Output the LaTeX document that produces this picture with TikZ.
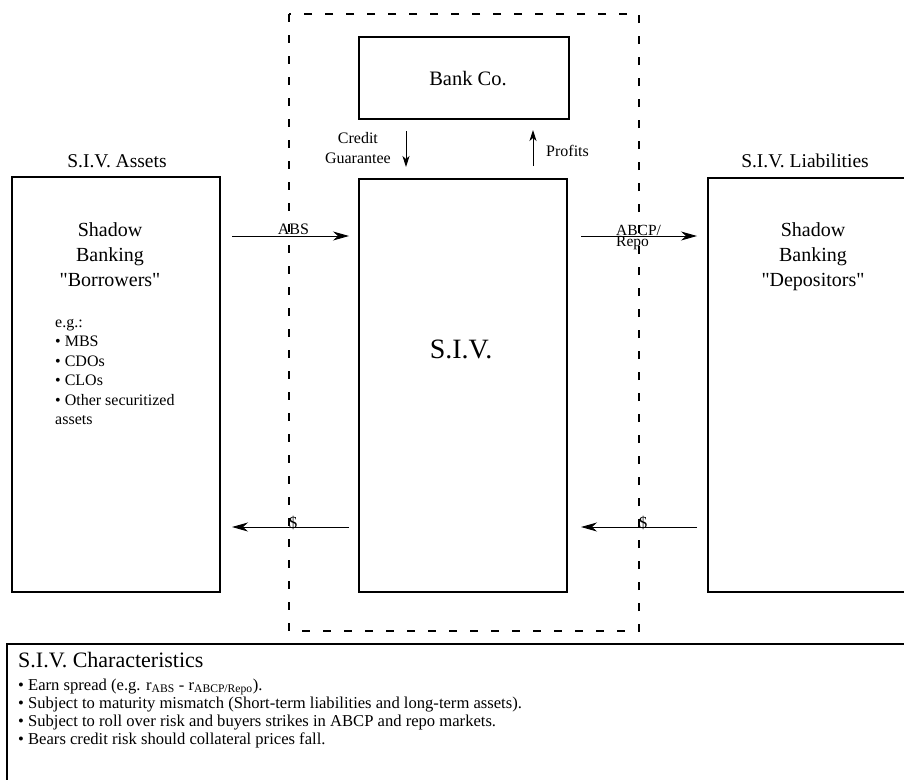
\documentclass[tikz,border=0pt]{standalone}
\usepackage{fontspec}
\setmainfont{Liberation Serif}
\usetikzlibrary{arrows.meta}
\newcommand{\fsz}[2]{\fontsize{#1}{#2}\selectfont}
\begin{document}
\begin{tikzpicture}[x=1pt,y=-1pt,
  box/.style={draw,line width=1.8pt,inner sep=0pt},
  flow/.style={line width=0.9pt,-{Stealth[length=16pt,width=9pt,inset=5pt]}},
  small/.style={-{Stealth[length=11pt,width=7pt,inset=3pt]},line width=1pt},
  txt/.style={inner sep=0pt}]
\useasboundingbox (0,0) rectangle (904,779);
% dashed SIV perimeter
\draw[line width=1.6pt,dash pattern=on 8pt off 13pt] (289,14) rectangle (639,631);
% boxes
\node[box,minimum width=208pt,minimum height=415pt] (assets) at (116,384.5) {};
\node[box,minimum width=208pt,minimum height=413pt] (siv) at (463,385.5) {};
\node[box,minimum width=210pt,minimum height=82pt] (bank) at (464,78) {};
\node[box,minimum width=210pt,minimum height=414pt] (liab) at (813,385) {};
\node[box,minimum width=920pt,minimum height=160pt,anchor=north west] (chars) at (6,643) {};
% titles
\node[txt,anchor=base,font=\fsz{19.5}{23}] (ta) at (117,167) {S.I.V. Assets};
\node[txt,anchor=base,font=\fsz{19.5}{23}] (tl) at (805,167) {S.I.V. Liabilities};
\node[txt,anchor=base,font=\fsz{20.5}{24}] (tb) at (468,85) {Bank Co.};
\node[txt,anchor=base,font=\fsz{28}{32}] (ts) at (461,358) {S.I.V.};
% box texts
\node[txt,anchor=base,font=\fsz{20}{25}] (tbor) at (110,236)
  {\begin{tabular}[t]{@{}c@{}}Shadow\\Banking\\\textquotedbl Borrowers\textquotedbl\end{tabular}};
\node[txt,anchor=base,font=\fsz{20}{25}] (tdep) at (813,236)
  {\begin{tabular}[t]{@{}c@{}}Shadow\\Banking\\\textquotedbl Depositors\textquotedbl\end{tabular}};
\node[txt,anchor=base west,font=\fsz{16}{19.5}] (teg) at (55,327)
  {\begin{tabular}[t]{@{}l@{}}e.g.:\\• MBS\\• CDOs\\• CLOs\\• Other securitized\\assets\end{tabular}};
% flows
\coordinate (a1) at (232,236); \coordinate (a2) at (349,236);
\coordinate (b1) at (581,236); \coordinate (b2) at (697,236);
\coordinate (c1) at (349,527); \coordinate (c2) at (232,527);
\coordinate (d1) at (697,527); \coordinate (d2) at (581,527);
\draw[flow] (a1) -- (a2);
\draw[flow] (b1) -- (b2);
\draw[flow] (c1) -- (c2);
\draw[flow] (d1) -- (d2);
\node[txt,anchor=base,font=\fsz{16}{18}] (labs) at (293.5,234) {ABS};
\node[txt,anchor=base west,font=\fsz{15.5}{18}] (labcp) at (616,235) {ABCP/};
\node[txt,anchor=base west,font=\fsz{15.5}{18}] (lrepo) at (616,246) {Repo};
\node[txt,anchor=base,font=\fsz{17}{18}] (ld1) at (293,528) {\$};
\node[txt,anchor=base,font=\fsz{17}{18}] (ld2) at (643,528) {\$};
% bank flows
\coordinate (g1) at (406,131); \coordinate (g2) at (406,167);
\coordinate (p1) at (533,166); \coordinate (p2) at (533,130);
\draw[small] (g1) -- (g2);
\draw[small] (p1) -- (p2);
\node[txt,anchor=base east,font=\fsz{16}{20}] (lg) at (391,143)
  {\begin{tabular}[t]{@{}c@{}}Credit\\Guarantee\end{tabular}};
\node[txt,anchor=base west,font=\fsz{16}{18}] (lp) at (546,156) {Profits};
% characteristics
\node[txt,anchor=base west,font=\fsz{22}{26}] (tc) at (18,667) {S.I.V. Characteristics};
\node[txt,anchor=base west,font=\fsz{16.6}{18}] (tlist) at (18,690)
 {\begin{tabular}[t]{@{}l@{}}• Earn spread (e.g. r\textsubscript{ABS} - r\textsubscript{ABCP/Repo}).\\
  • Subject to maturity mismatch (Short-term liabilities and long-term assets).\\
  • Subject to roll over risk and buyers strikes in ABCP and repo markets.\\
  • Bears credit risk should collateral prices fall.\end{tabular}};
\end{tikzpicture}
\end{document}
